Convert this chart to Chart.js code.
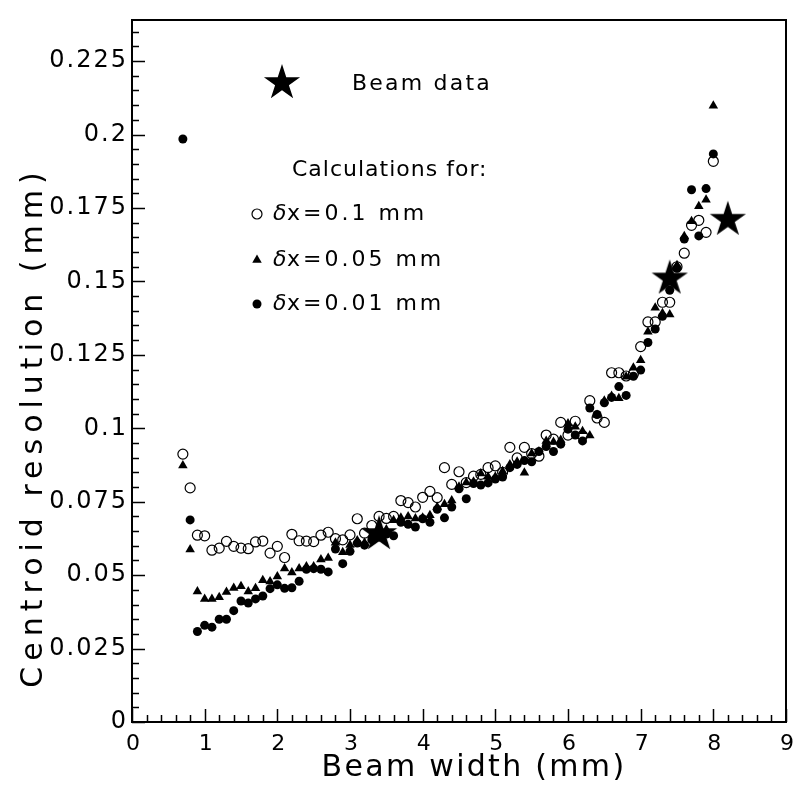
<!DOCTYPE html>
<html>
<head>
<meta charset="utf-8">
<script src="https://cdn.jsdelivr.net/npm/chart.js@4.4.0/dist/chart.umd.min.js"></script>
<style>
html,body{margin:0;padding:0;background:#fff;}
#wrap{width:806px;height:787px;}
</style>
</head>
<body>
<div id="wrap"><canvas id="myChart" width="806" height="787"></canvas></div>
<script>
// beam width (mm) for the calculated points
const beamWidth = [0.7,0.8,0.9,1.0,1.1,1.2,1.3,1.4,1.5,1.6,1.7,1.8,1.9,2.0,2.1,2.2,2.3,2.4,2.5,2.6,
  2.7,2.8,2.9,3.0,3.1,3.2,3.3,3.4,3.5,3.6,3.7,3.8,3.9,4.0,4.1,4.2,4.3,4.4,4.5,4.6,
  4.7,4.8,4.9,5.0,5.1,5.2,5.3,5.4,5.5,5.6,5.7,5.8,5.9,6.0,6.1,6.2,6.3,6.4,6.5,6.6,
  6.7,6.8,6.9,7.0,7.1,7.2,7.3,7.4,7.5,7.6,7.7,7.8,7.9,8.0];

// centroid resolution (mm), dx = 0.1 mm (open circles)
const resDx01 = [0.0912,0.0797,0.0636,0.0634,0.0585,0.0592,0.0615,0.0598,0.0592,0.0590,0.0613,0.0616,0.0575,0.0598,0.0560,0.0639,0.0617,0.0616,0.0614,0.0636,
  0.0646,0.0624,0.0620,0.0637,0.0692,0.0643,0.0669,0.0700,0.0693,0.0700,0.0754,0.0747,0.0732,0.0765,0.0785,0.0764,0.0866,0.0809,0.0852,0.0815,
  0.0837,0.0843,0.0866,0.0872,0.0850,0.0935,0.0899,0.0935,0.0914,0.0905,0.0977,0.0963,0.1020,0.0977,0.1024,0.0975,0.1094,0.1035,0.1020,0.1189,
  0.1189,0.1178,0.1185,0.1278,0.1362,0.1362,0.1429,0.1429,0.1550,0.1596,0.1691,0.1708,0.1667,0.1909];

// dx = 0.05 mm (triangles)
const resDx005 = [0.0873,0.0587,0.0444,0.0419,0.0419,0.0425,0.0443,0.0456,0.0462,0.0444,0.0455,0.0483,0.0478,0.0495,0.0523,0.0509,0.0523,0.0529,0.0529,0.0553,
  0.0558,0.0610,0.0578,0.0603,0.0618,0.0610,0.0635,0.0640,0.0655,0.0687,0.0695,0.0700,0.0693,0.0695,0.0704,0.0732,0.0741,0.0754,0.0801,0.0815,
  0.0818,0.0846,0.0835,0.0835,0.0854,0.0877,0.0886,0.0849,0.0914,0.0921,0.0957,0.0953,0.0960,0.1016,0.1005,0.0990,0.0975,0.1045,0.1094,0.1110,
  0.1102,0.1175,0.1206,0.1232,0.1329,0.1410,0.1392,0.1387,0.1555,0.1654,0.1705,0.1756,0.1778,0.2098];

// dx = 0.01 mm (filled circles)
const resDx001 = [0.1985,0.0688,0.0308,0.0329,0.0323,0.0350,0.0350,0.0379,0.0412,0.0405,0.0419,0.0429,0.0454,0.0467,0.0455,0.0457,0.0479,0.0520,0.0522,0.0520,
  0.0511,0.0589,0.0539,0.0581,0.0609,0.0602,0.0620,0.0630,0.0640,0.0634,0.0680,0.0673,0.0664,0.0692,0.0680,0.0724,0.0695,0.0732,0.0794,0.0760,
  0.0812,0.0807,0.0814,0.0827,0.0834,0.0866,0.0877,0.0890,0.0886,0.0921,0.0938,0.0921,0.0946,0.0997,0.0977,0.0957,0.1069,0.1047,0.1087,0.1105,
  0.1142,0.1112,0.1177,0.1198,0.1292,0.1338,0.1381,0.1470,0.1545,0.1644,0.1812,0.1655,0.1816,0.1934];

// measured beam data (stars)
const beamDataX = [3.4, 7.4, 8.2];
const beamDataY = [0.064, 0.151, 0.171];

const xTickLabels = ['0','1','2','3','4','5','6','7','8','9'];
const yTickLabels = ['0','0.025','0.05','0.075','0.1','0.125','0.15','0.175','0.2','0.225'];

const FONT = "'DejaVu Sans', sans-serif";

function pts(xs, ys){
  return xs.map((x, i) => ({x: x, y: ys[i]}));
}

// filled five point star used as marker
function makeStar(r){
  const c = document.createElement('canvas');
  c.width = c.height = 2*r + 2;
  const g = c.getContext('2d');
  g.fillStyle = '#000';
  g.beginPath();
  for (let i = 0; i < 10; i++){
    const rr = (i % 2 == 0) ? r : r*0.382;
    const a = -Math.PI/2 + i*Math.PI/5;
    const px = r + 1 + rr*Math.cos(a), py = r + 1 + rr*Math.sin(a);
    if (i == 0) g.moveTo(px, py); else g.lineTo(px, py);
  }
  g.closePath();
  g.fill();
  return c;
}
const starImg = makeStar(19);

function txt(ctx, s, x, y, size, align, spacing, italic, base){
  ctx.font = (italic ? 'italic ' : '') + size + 'px ' + FONT;
  ctx.letterSpacing = (spacing || 0) + 'px';
  ctx.textAlign = align;
  ctx.textBaseline = base || 'middle';
  ctx.fillText(s, x, y);
}

const rootAxes = {
  id: 'rootAxes',
  afterDraw(chart){
    const ctx = chart.ctx, a = chart.chartArea;
    const xs = chart.scales.x, ys = chart.scales.y;
    ctx.save();
    ctx.strokeStyle = '#000';
    ctx.fillStyle = '#000';
    ctx.lineWidth = 2;
    ctx.strokeRect(a.left, a.top, a.right - a.left, a.bottom - a.top);

    ctx.lineWidth = 1.5;
    ctx.beginPath();
    // x ticks, inward
    for (let i = 0; i <= 45; i++){
      const v = i*0.2;
      const px = Math.round(xs.getPixelForValue(v)) + 0.5;
      const len = (i % 5 == 0) ? 13 : 7;
      ctx.moveTo(px, a.bottom); ctx.lineTo(px, a.bottom - len);
    }
    // y ticks, inward
    for (let i = 0; i <= 47; i++){
      const v = i*0.005;
      if (v > ys.max) break;
      const py = Math.round(ys.getPixelForValue(v)) + 0.5;
      const len = (i % 5 == 0) ? 13 : 7;
      ctx.moveTo(a.left, py); ctx.lineTo(a.left + len, py);
    }
    ctx.stroke();

    xTickLabels.forEach(l => {
      txt(ctx, l, xs.getPixelForValue(parseFloat(l)) + 1, a.bottom + 22, 22, 'center', 0);
    });
    yTickLabels.forEach(l => {
      txt(ctx, l, a.left - 4, ys.getPixelForValue(parseFloat(l)), 24, 'right', 2);
    });

    txt(ctx, 'Beam width (mm)', 474, 768, 30, 'center', 2.3);
    ctx.save();
    ctx.translate(42, 427);
    ctx.rotate(-Math.PI/2);
    txt(ctx, 'Centroid resolution (mm)', 0, 0, 30, 'center', 6, false, 'alphabetic');
    ctx.restore();

    // legend
    ctx.drawImage(starImg, 282 - starImg.width/2, 83 - starImg.height/2);
    txt(ctx, 'Beam data', 352, 84, 22, 'left', 2.2);
    txt(ctx, 'Calculations for:', 292, 170, 22, 'left', 1);
    const leg = [
      {style: 'circle', r: 5, fill: false, label: 'x=0.1 mm', y: 214},
      {style: 'triangle', r: 5.5, fill: true, label: 'x=0.05 mm', y: 260},
      {style: 'circle', r: 4.5, fill: true, label: 'x=0.01 mm', y: 304}
    ];
    leg.forEach(e => {
      ctx.fillStyle = e.fill ? '#000' : 'rgba(0,0,0,0)';
      ctx.strokeStyle = '#000';
      ctx.lineWidth = 1.2;
      ctx.letterSpacing = '0px';
      Chart.helpers.drawPoint(ctx, {pointStyle: e.style, radius: e.r, rotation: 0, borderWidth: e.fill ? 0 : 1.2}, 257, e.y);
      ctx.fillStyle = '#000';
      txt(ctx, '\u03b4', 273, e.y, 22, 'left', 0, true);
      txt(ctx, e.label, 287, e.y, 22, 'left', 3);
    });
    ctx.restore();
  }
};

const config = {
  type: 'scatter',
  data: {
    datasets: [
      {
        label: 'Beam data',
        data: pts(beamDataX, beamDataY),
        pointStyle: starImg,
        pointRadius: 19
      },
      {
        label: 'dx=0.1 mm',
        data: pts(beamWidth, resDx01),
        pointStyle: 'circle',
        pointRadius: 5,
        backgroundColor: 'rgba(0,0,0,0)',
        borderColor: '#000',
        borderWidth: 1.2
      },
      {
        label: 'dx=0.05 mm',
        data: pts(beamWidth, resDx005),
        pointStyle: 'triangle',
        pointRadius: 5.5,
        backgroundColor: '#000',
        borderColor: '#000',
        borderWidth: 0
      },
      {
        label: 'dx=0.01 mm',
        data: pts(beamWidth, resDx001),
        pointStyle: 'circle',
        pointRadius: 4.5,
        backgroundColor: '#000',
        borderColor: '#000',
        borderWidth: 0
      }
    ]
  },
  options: {
    responsive: false,
    animation: false,
    devicePixelRatio: 1,
    layout: { padding: { left: 132, right: 5, top: 8, bottom: 65 } },
    scales: {
      x: { type: 'linear', min: 0, max: 9, display: false },
      y: { type: 'linear', min: 0, max: 0.239, display: false }
    },
    plugins: {
      legend: { display: false },
      tooltip: { enabled: false }
    }
  },
  plugins: [rootAxes]
};

const myChart = new Chart(document.getElementById('myChart'), config);
</script>
</body>
</html>
